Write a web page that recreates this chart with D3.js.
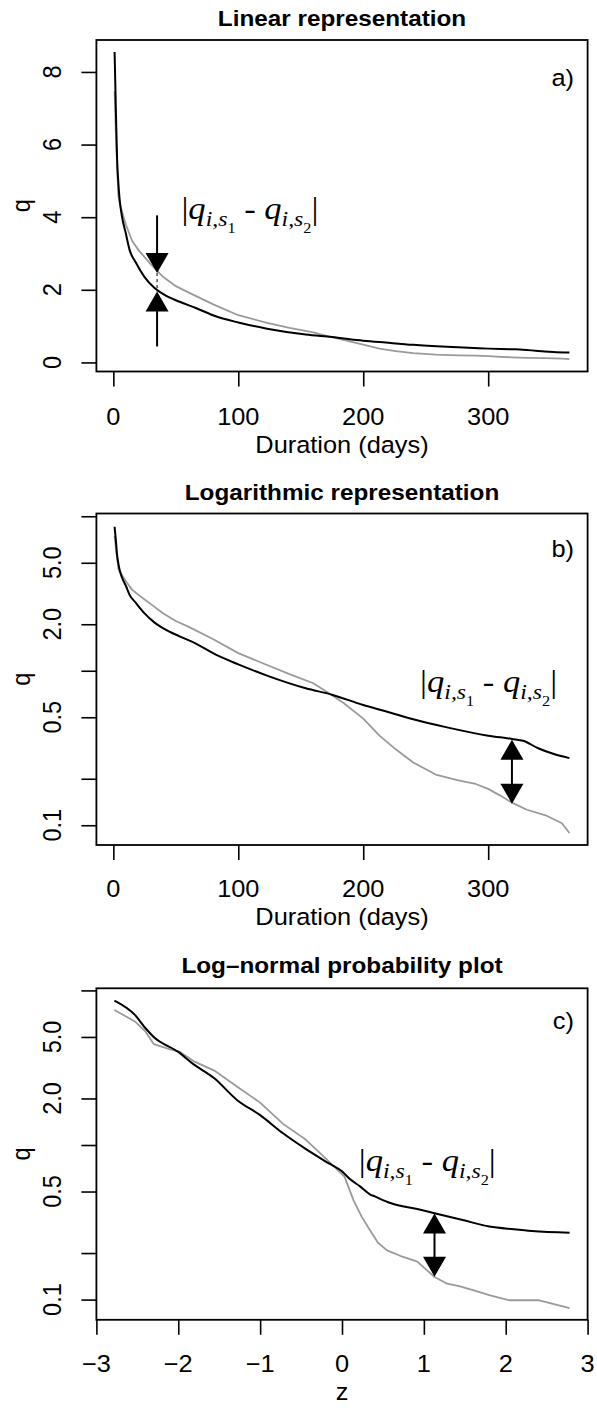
<!DOCTYPE html>
<html>
<head>
<meta charset="utf-8">
<script src="https://cdn.jsdelivr.net/npm/d3@7"></script>
<style>
  body { margin: 0; background: #fff; }
  svg text { font-family: "Liberation Sans", Arial, Helvetica, sans-serif; fill: #000; }
</style>
</head>
<body>
<svg id="chart" width="597" height="1408"></svg>
<script>
// flow duration data (black = s1, gray = s2)
var daysBlack = [1, 2, 3, 4, 5, 7, 10, 13, 18, 25, 33, 40, 53, 66, 82, 100, 123, 154, 175, 200, 218, 240, 267, 300, 319, 328, 340, 352, 365]
var qBlack = [8.55, 7.0, 5.6, 4.95, 4.5, 4.0, 3.55, 3.1, 2.75, 2.35, 2.05, 1.88, 1.67, 1.5, 1.27, 1.1, 0.93, 0.77, 0.70, 0.60, 0.547, 0.485, 0.43, 0.38, 0.362, 0.352, 0.315, 0.29, 0.272]
var daysGray = [1, 2, 3, 4, 5, 7, 10, 15, 20, 30, 40, 50, 60, 80, 100, 123, 141, 160, 172, 184, 200, 213, 226, 240, 258, 276, 290, 300, 310, 319, 331, 346, 359, 365]
var qGray = [7.47, 6.3, 5.4, 4.6, 4.4, 4.15, 3.8, 3.35, 3.1, 2.7, 2.35, 2.1, 1.93, 1.6, 1.3, 1.09, 0.95, 0.83, 0.72, 0.62, 0.49, 0.38, 0.31, 0.255, 0.213, 0.195, 0.185, 0.172, 0.155, 0.14, 0.126, 0.116, 0.103, 0.089]

// same data against normal quantiles (panel c)
var zBlack = [-2.78, -2.53, -2.40, -2.30, -2.0, -1.82, -1.56, -1.28, -1.0, -0.72, -0.44, -0.16, 0.0, 0.1, 0.22, 0.34, 0.4, 0.6, 0.92, 1.13, 1.45, 1.8, 2.1, 2.32, 2.78]
var qBlackZ = [8.6, 6.95, 5.69, 5.0, 4.0, 3.35, 2.7, 1.95, 1.56, 1.19, 0.94, 0.76, 0.675, 0.6, 0.54, 0.48, 0.465, 0.42, 0.385, 0.362, 0.33, 0.297, 0.285, 0.278, 0.271]
var zGray = [-2.78, -2.53, -2.40, -2.30, -2.1, -1.98, -1.80, -1.56, -1.28, -1.0, -0.72, -0.44, -0.2, 0.03, 0.14, 0.24, 0.34, 0.44, 0.55, 0.71, 0.92, 1.13, 1.28, 1.43, 1.6, 1.8, 1.95, 2.05, 2.41, 2.78]
var qGrayZ = [7.47, 6.3, 5.41, 4.5, 4.15, 4.0, 3.46, 3.03, 2.38, 1.88, 1.37, 1.08, 0.82, 0.624, 0.44, 0.344, 0.282, 0.233, 0.208, 0.192, 0.176, 0.14, 0.127, 0.122, 0.115, 0.107, 0.102, 0.099, 0.099, 0.088]

var dayTicks = [0, 100, 200, 300]
var linTicks = [0, 2, 4, 6, 8]
var logTicks = [0.1, 0.2, 0.5, 1, 2, 5, 10]
var logLabels = ["0.1", "", "0.5", "", "2.0", "5.0", ""]
var zTicks = [-3, -2, -1, 0, 1, 2, 3]
var zLabels = ["\u22123", "\u22122", "\u22121", "0", "1", "2", "3"]

var titles = ["Linear representation", "Logarithmic  representation", "Log\u2013normal probability plot"]
var tags = ["a)", "b)", "c)"]
var xTitles = ["Duration (days)", "Duration (days)", "z"]

// arrow annotations in data units
var arrowA = {x: 35, top: 4.05, down: 2.46, up: 1.95, bottom: 0.44}
var arrowB = {x: 319, top: 0.358, bottom: 0.138}
var arrowC = {x: 1.13, top: 0.361, bottom: 0.1406}
var formulaPos = [{x: 54.5, q: 3.94}, {x: 245.5, q: 0.732}, {x: 0.205, q: 0.674}]

var svg = d3.select('#chart')
var left = 96.4, right = 587.6, boxH = 331.5
var tops = [40, 513.5, 988.3]
var stretch = 1.08   // the original figure is a little wider than tall

var xDays = d3.scaleLinear().domain([-13.56, 379.56]).range([left, right])
var xZ = d3.scaleLinear().domain([-3, 3]).range([left, right])
var yA = d3.scaleLinear().domain([-0.25, 8.88]).range([tops[0] + boxH, tops[0]])
var yB = d3.scaleLog().domain([0.0745, 10.42]).range([tops[1] + boxH, tops[1]])
var yC = d3.scaleLog().domain([0.074, 10.32]).range([tops[2] + boxH, tops[2]])

var panels = [
  {x: xDays, y: yA, xt: dayTicks, xl: dayTicks.map(String), yt: linTicks, yl: linTicks.map(String),
   black: [daysBlack, qBlack], gray: [daysGray, qGray], tickBase: 425, titleBase: 453, headBase: 26, tagBase: 86},
  {x: xDays, y: yB, xt: dayTicks, xl: dayTicks.map(String), yt: logTicks, yl: logLabels,
   black: [daysBlack, qBlack], gray: [daysGray, qGray], tickBase: 897, titleBase: 925, headBase: 500, tagBase: 557},
  {x: xZ, y: yC, xt: zTicks, xl: zLabels, yt: logTicks, yl: logLabels,
   black: [zBlack, qBlackZ], gray: [zGray, qGrayZ], tickBase: 1372, titleBase: 1400, headBase: 973, tagBase: 1029}
]

function zip(xs, ys){
  return xs.map(function(v, i){ return [v, ys[i]] })
}

function addText(g, str, x, y, size, rot){
  var t = g.append('text')
    .attr('transform', 'translate(' + x + ',' + y + ') scale(' + stretch + ',1)' + (rot ? ' rotate(-90)' : ''))
    .attr('text-anchor', 'middle')
    .style('font-size', size + 'px')
    .text(str)
  return t
}

panels.forEach(function(p, k){
  var g = svg.append('g')
  var top = tops[k], bottom = top + boxH

  // ticks with d3 axes, labels drawn by hand (R style, rotated on y)
  g.append('g').attr('transform', 'translate(' + left + ',0)')
    .call(d3.axisLeft(p.y).tickValues(p.yt).tickSize(15).tickFormat(''))
  g.append('g').attr('transform', 'translate(0,' + bottom + ')')
    .call(d3.axisBottom(p.x).tickValues(p.xt).tickSize(15).tickFormat(''))
  g.selectAll('.domain').remove()
  g.selectAll('.tick line').attr('stroke', '#000').attr('stroke-width', 1.6)

  p.yt.forEach(function(v, i){
    if (p.yl[i] != "") addText(g, p.yl[i], 61, p.y(v), 23.5, true)
  })
  p.xt.forEach(function(v, i){
    addText(g, p.xl[i], p.x(v), p.tickBase, 23.5, false)
  })
  addText(g, 'q', 30, (top + bottom) / 2, 23.5, true)
  addText(g, xTitles[k], (left + right) / 2, p.titleBase, 23.5, false)
  addText(g, titles[k], (left + right) / 2, p.headBase, 22.5, false).style('font-weight', 'bold')
  addText(g, tags[k], 574, p.tagBase, 23.5, false).attr('text-anchor', 'end')

  var line = d3.line()
    .x(function(d){ return p.x(d[0]) })
    .y(function(d){ return p.y(d[1]) })
  var smooth = d3.line().curve(d3.curveMonotoneX)
    .x(function(d){ return p.x(d[0]) })
    .y(function(d){ return p.y(d[1]) })

  g.append('path').datum(zip(p.gray[0], p.gray[1]))
    .attr('d', line).attr('fill', 'none')
    .attr('stroke', '#9a9a9a').attr('stroke-width', 1.8).attr('stroke-linejoin', 'round')
  g.append('path').datum(zip(p.black[0], p.black[1]))
    .attr('d', smooth).attr('fill', 'none')
    .attr('stroke', '#000').attr('stroke-width', 2).attr('stroke-linejoin', 'round')

  g.append('rect')
    .attr('x', left).attr('y', top).attr('width', right - left).attr('height', boxH)
    .attr('fill', 'none').attr('stroke', '#000').attr('stroke-width', 1.8)

  drawFormula(g, p.x(formulaPos[k].x), p.y(formulaPos[k].q))
})

// arrow heads: w wide, h tall, apex at (x, y), dir -1 = pointing up
function head(g, x, y, dir){
  var w = 23, h = 20
  g.append('path')
    .attr('d', 'M' + x + ',' + y + 'L' + (x - w / 2) + ',' + (y - dir * h) + 'L' + (x + w / 2) + ',' + (y - dir * h) + 'Z')
    .attr('fill', '#000')
}

function stem(g, x, y1, y2, dash){
  g.append('line').attr('x1', x).attr('x2', x).attr('y1', y1).attr('y2', y2)
    .attr('stroke', '#000').attr('stroke-width', dash ? 1 : 2)
    .attr('stroke-dasharray', dash ? '3,3' : null)
}

var ga = svg.append('g')
var ax = xDays(arrowA.x)
stem(ga, ax, yA(arrowA.top), yA(arrowA.down) - 10)
head(ga, ax, yA(arrowA.down), 1)
stem(ga, ax, yA(arrowA.down), yA(arrowA.up), true)
stem(ga, ax, yA(arrowA.bottom), yA(arrowA.up) + 10)
head(ga, ax, yA(arrowA.up), -1)

var gb = svg.append('g')
var bx = xDays(arrowB.x)
stem(gb, bx, yB(arrowB.top) + 10, yB(arrowB.bottom) - 10)
head(gb, bx, yB(arrowB.top), -1)
head(gb, bx, yB(arrowB.bottom), 1)

var gc = svg.append('g')
var cx = xZ(arrowC.x)
stem(gc, cx, yC(arrowC.top) + 10, yC(arrowC.bottom) - 10)
head(gc, cx, yC(arrowC.top), -1)
head(gc, cx, yC(arrowC.bottom), 1)

// |q_{i,s1} - q_{i,s2}| in the plotmath look
function drawFormula(g, x, y){
  var t = g.append('text')
    .attr('transform', 'translate(' + x + ',' + y + ') scale(' + stretch + ',1)')
    .style('font-family', '"Liberation Serif", "Times New Roman", serif')
    .style('font-size', '32px')
  var parts = [
    {s: '|'}, {s: 'q', it: 1},
    {s: 'i,s', it: 1, size: 22, dy: 7}, {s: '1', size: 15, dy: 7},
    {s: '-', dy: -14, dx: 8}, {s: 'q', it: 1, dx: 8},
    {s: 'i,s', it: 1, size: 22, dy: 7}, {s: '2', size: 15, dy: 7},
    {s: '|', dy: -14}
  ]
  parts.forEach(function(d){
    t.append('tspan')
      .attr('dy', d.dy || 0).attr('dx', d.dx || 0)
      .style('font-style', d.it ? 'italic' : 'normal')
      .style('font-size', (d.size || 32) + 'px')
      .text(d.s)
  })
}
</script>
</body>
</html>
